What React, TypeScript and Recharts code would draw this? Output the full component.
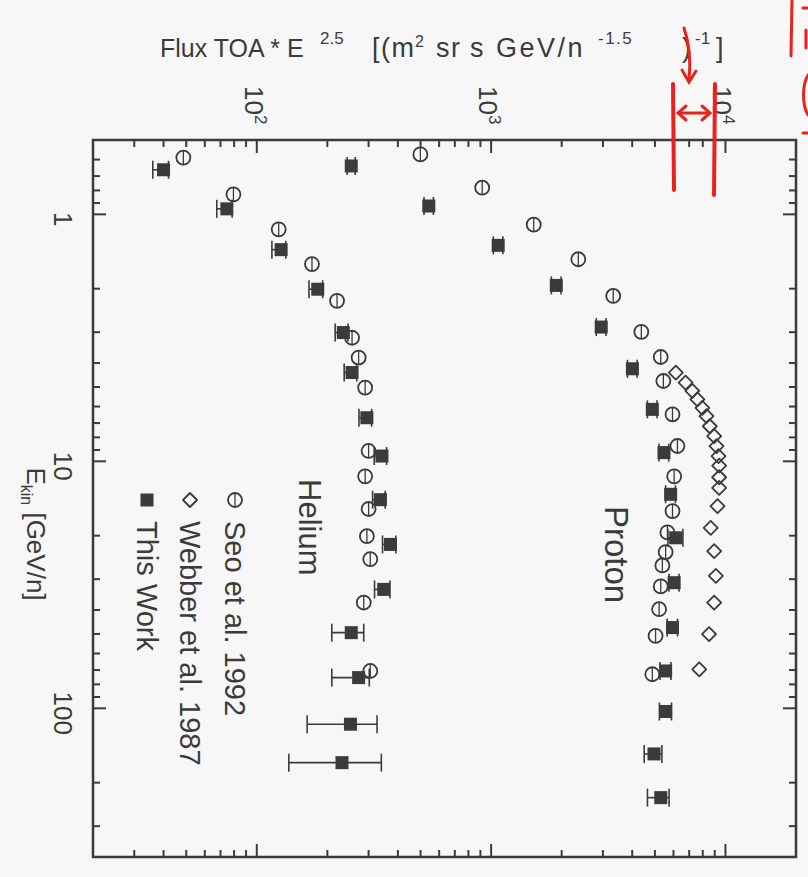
import React from 'react';
import { ScatterChart, Scatter, XAxis, YAxis, ErrorBar, ReferenceArea } from 'recharts';

// axis ticks (flux on top, kinetic energy on the left)
const fluxTicks = [20, 30, 40, 50, 60, 70, 80, 90, 100, 200, 300, 400, 500, 600, 700, 800, 900,
    1000, 2000, 3000, 4000, 5000, 6000, 7000, 8000, 9000, 10000, 20000];
const fluxMajorTicks = [100, 1000, 10000];
const fluxTickExponents = ['2', '3', '4'];
const energyTicks = [0.5, 0.6, 0.7, 0.8, 0.9, 1, 2, 3, 4, 5, 6, 7, 8, 9, 10, 20, 30, 40, 50, 60, 70, 80, 90,
    100, 200, 300, 400];
const energyMajorTicks = [1, 10, 100];
const energyTickLabels = ['1', '10', '100'];

// Helium - This Work
const heliumWorkEnergy = [0.66, 0.95, 1.39, 2.01, 3.01, 4.37, 6.66, 9.52, 14.3, 21.7, 33.0, 49.4, 75.1, 116, 166];
const heliumWorkFlux = [40, 74.5, 127, 182, 234, 255, 295, 342, 337, 372, 348, 253, 272, 251, 231];
const heliumWorkErrLow = [4, 7, 11, 15, 18, 19, 22, 25, 25, 28, 30, 44, 63, 87, 94];
const heliumWorkErrHigh = [2, 4, 6, 9, 11, 12, 14, 16, 16, 20, 22, 33, 30, 75, 109];

// Helium - Seo et al. 1992
const heliumSeoEnergy = [0.589, 0.83, 1.15, 1.59, 2.24, 3.16, 3.80, 5.03, 9.08, 11.5, 15.6, 20.1, 24.9, 37.3, 70.6];
const heliumSeoFlux = [48.6, 79.5, 124, 172, 220, 255, 272, 290, 300, 290, 300, 295, 305, 286, 305];

// Proton - This Work
const protonWorkEnergy = [0.637, 0.925, 1.335, 1.94, 2.86, 4.22, 6.16, 9.22, 13.6, 20.4, 31.0, 47.1, 70.6, 103, 153, 230];
const protonWorkFlux = [253, 542, 1072, 1897, 2950, 4008, 4874, 5466, 5835, 6133, 6040, 5943, 5555, 5555, 4955, 5296];
const protonWorkErrLow = [10, 25, 50, 90, 140, 190, 230, 260, 280, 450, 300, 300, 300, 330, 455, 650];
const protonWorkErrHigh = [10, 25, 50, 90, 140, 190, 230, 260, 280, 450, 300, 300, 300, 330, 400, 450];

// Proton - Seo et al. 1992
const protonSeoEnergy = [0.572, 0.78, 1.1, 1.52, 2.14, 2.99, 3.78, 4.73, 6.45, 8.67, 11.5, 15.9, 19.4, 23.3, 26.4,
    32.1, 39.7, 50.9, 72.8];
const protonSeoFlux = [499, 916, 1520, 2355, 3319, 4375, 5294, 5432, 5943, 6237, 6040, 5943, 5653, 5555, 5380,
    5296, 5210, 5032, 4874];

// Proton - Webber et al. 1987
const protonWebberEnergy = [4.37, 4.80, 5.19, 5.61, 6.07, 6.56, 7.21, 7.91, 8.68, 9.52, 10.4, 11.6, 12.8, 15.2,
    18.6, 23.1, 29.1, 37.3, 50.1, 69.5];
const protonWebberFlux = [6140, 6760, 7220, 7590, 7970, 8300, 8570, 8950, 9160, 9340, 9400, 9400, 9400, 9250,
    8650, 8950, 9100, 8950, 8510, 7730];

const heliumWork = heliumWorkEnergy.map((e, i) => ({
    e, flux: heliumWorkFlux[i], err: [heliumWorkErrLow[i], heliumWorkErrHigh[i]]
}));
const protonWork = protonWorkEnergy.map((e, i) => ({
    e, flux: protonWorkFlux[i], err: [protonWorkErrLow[i], protonWorkErrHigh[i]]
}));
const heliumSeo = heliumSeoEnergy.map((e, i) => ({ e, flux: heliumSeoFlux[i] }));
const protonSeo = protonSeoEnergy.map((e, i) => ({ e, flux: protonSeoFlux[i] }));
const protonWebber = protonWebberEnergy.map((e, i) => ({ e, flux: protonWebberFlux[i] }));

const W = 808;
const H = 877;
const LEFT = 93;
const RIGHT = 796;
const TOP = 140;
const BOTTOM = 857;
const INK = '#3b3b3b';
const FONT = '"Liberation Sans", Arial, sans-serif';
const RED = '#e8231f';

// top axis tick: also draws the matching tick on the bottom edge
const TopTick = (props: any) => {
    const { x, payload } = props;
    const i = fluxMajorTicks.indexOf(payload.value);
    const len = i >= 0 ? 13 : 7;
    return (
        <g>
            <line x1={x} y1={TOP} x2={x} y2={TOP + len} stroke={INK} strokeWidth={2} />
            <line x1={x} y1={BOTTOM} x2={x} y2={BOTTOM - len} stroke={INK} strokeWidth={2} />
            {i >= 0 && (
                <text transform={`translate(${x},86) rotate(90)`} y={12} fontSize={26} fill={INK} fontFamily={FONT}>
                    10<tspan dy={-10} fontSize={17}>{fluxTickExponents[i]}</tspan>
                </text>
            )}
        </g>
    );
};

// left axis tick: also draws the matching tick on the right edge
const LeftTick = (props: any) => {
    const { y, payload } = props;
    const i = energyMajorTicks.indexOf(payload.value);
    const len = i >= 0 ? 13 : 7;
    return (
        <g>
            <line x1={LEFT} y1={y} x2={LEFT + len} y2={y} stroke={INK} strokeWidth={2} />
            <line x1={RIGHT} y1={y} x2={RIGHT - len} y2={y} stroke={INK} strokeWidth={2} />
            {i >= 0 && (
                <text transform={`translate(63,${y + 5}) rotate(90)`} y={9} textAnchor="middle" fontSize={26}
                    fill={INK} fontFamily={FONT}>
                    {energyTickLabels[i]}
                </text>
            )}
        </g>
    );
};

const Square = (p: any) => <rect x={p.cx - 6.5} y={p.cy - 6.5} width={13} height={13} fill={INK} />;
const Circle = (p: any) => (
    <g>
        <circle cx={p.cx} cy={p.cy} r={7} fill="none" stroke={INK} strokeWidth={1.8} />
        <line x1={p.cx} y1={p.cy - 7} x2={p.cx} y2={p.cy + 7} stroke={INK} strokeWidth={1.3} />
    </g>
);
const Diamond = (p: any) => (
    <path d={`M${p.cx},${p.cy - 7}L${p.cx + 7},${p.cy}L${p.cx},${p.cy + 7}L${p.cx - 7},${p.cy}Z`}
        fill="none" stroke={INK} strokeWidth={1.8} strokeLinejoin="round" />
);

const App: React.FC = () => {
    return (
        <div style={{ position: 'absolute', left: 0, top: 0, width: W, height: H, background: '#f7f7f7', fontFamily: FONT }}>
            <ScatterChart width={W} height={H}
                margin={{ top: TOP, left: LEFT, right: W - RIGHT, bottom: H - BOTTOM }}>
                <XAxis xAxisId="top" dataKey="flux" type="number" scale="log" domain={[20, 20000]} allowDataOverflow
                    orientation="top" height={1} mirror ticks={fluxTicks} interval={0} tickLine={false}
                    axisLine={false} tick={TopTick} />
                <YAxis yAxisId="left" dataKey="e" type="number" scale="log" domain={[0.5, 400]} allowDataOverflow
                    reversed orientation="left" width={1} mirror ticks={energyTicks} interval={0} tickLine={false}
                    axisLine={false} tick={LeftTick} />
                <ReferenceArea xAxisId="top" yAxisId="left" x1={20} x2={20000} y1={0.5} y2={400}
                    fill="none" stroke={INK} strokeWidth={2.5} ifOverflow="visible" />
                <Scatter name="Seo et al. 1992 (He)" data={heliumSeo} xAxisId="top" yAxisId="left"
                    shape={Circle} isAnimationActive={false} />
                <Scatter name="Seo et al. 1992 (p)" data={protonSeo} xAxisId="top" yAxisId="left"
                    shape={Circle} isAnimationActive={false} />
                <Scatter name="Webber et al. 1987" data={protonWebber} xAxisId="top" yAxisId="left"
                    shape={Diamond} isAnimationActive={false} />
                <Scatter name="This Work (He)" data={heliumWork} xAxisId="top" yAxisId="left"
                    shape={Square} isAnimationActive={false}>
                    <ErrorBar dataKey="err" direction="x" width={9} stroke={INK} strokeWidth={1.6} />
                </Scatter>
                <Scatter name="This Work (p)" data={protonWork} xAxisId="top" yAxisId="left"
                    shape={Square} isAnimationActive={false}>
                    <ErrorBar dataKey="err" direction="x" width={9} stroke={INK} strokeWidth={1.6} />
                </Scatter>
            </ScatterChart>

            <svg width={W} height={H} style={{ position: 'absolute', left: 0, top: 0, pointerEvents: 'none' }}
                fontFamily={FONT}>
                {/* title */}
                <text y={57} fontSize={25} fill={INK}>
                    <tspan x={160}>Flux TOA * E</tspan>
                    <tspan x={320} dy={-13} fontSize={17}>2.5</tspan>
                    <tspan x={372} dy={13} fontSize={27} letterSpacing={1.5}>[(m</tspan>
                    <tspan x={415} dy={-10} fontSize={16}>2</tspan>
                    <tspan x={436} dy={10} fontSize={27} letterSpacing={1.5}>sr</tspan>
                    <tspan x={470} fontSize={27}>s</tspan>
                    <tspan x={496} fontSize={27} letterSpacing={2.5}>GeV/n</tspan>
                    <tspan x={598} dy={-13} fontSize={17} letterSpacing={1.5}>-1.5</tspan>
                    <tspan x={682} dy={13} fontSize={27}>)</tspan>
                    <tspan x={695} dy={-13} fontSize={17}>-1</tspan>
                    <tspan x={716} dy={13} fontSize={27}>]</tspan>
                </text>

                {/* y axis title */}
                <text transform="translate(36,534) rotate(90)" y={9} textAnchor="middle" fontSize={26} fill={INK}>
                    E<tspan dy={6} fontSize={16}>kin</tspan><tspan dy={-6}> [GeV/n]</tspan>
                </text>

                {/* species labels */}
                <text transform="translate(310,479) rotate(90)" y={11} fontSize={31} fill={INK}>Helium</text>
                <text transform="translate(616,506) rotate(90)" y={11} fontSize={33} fill={INK}>Proton</text>

                {/* legend */}
                <Circle cx={235} cy={500} />
                <text transform="translate(235,521) rotate(90)" y={10} fontSize={29} fill={INK}>Seo et al. 1992</text>
                <Diamond cx={190} cy={500} />
                <text transform="translate(190,521) rotate(90)" y={10} fontSize={29} fill={INK}>Webber et al. 1987</text>
                <Square cx={147} cy={500} />
                <text transform="translate(147,521) rotate(90)" y={10} fontSize={29} fill={INK}>This Work</text>

                {/* red hand annotations */}
                <g stroke={RED} strokeWidth={4} strokeLinecap="round" fill="none">
                    <path d="M673,84 L674,190" />
                    <path d="M715,84 L714,195" />
                    <path d="M679,113 L709,113" strokeWidth={3} />
                    <path d="M686,106 L678,113 L686,120" strokeWidth={3} />
                    <path d="M702,106 L710,113 L702,120" strokeWidth={3} />
                    <path d="M684,28 C690,45 691,60 689,80" strokeWidth={3} />
                    <path d="M682,70 L689,82 L696,71" strokeWidth={3} />
                    <path d="M792,0 L791,56" strokeWidth={3} />
                    <path d="M803,8 L808,8" strokeWidth={3} />
                    <path d="M806,30 L806,48" strokeWidth={3} />
                    <path d="M808,75 C802,85 802,105 808,115" strokeWidth={3} />
                    <path d="M803,133 L808,133" strokeWidth={3} />
                </g>
            </svg>
        </div>
    );
};

export default App;
